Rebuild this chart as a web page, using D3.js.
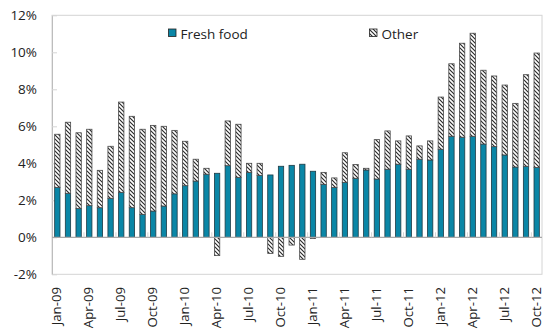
<!DOCTYPE html>
<html>
<head>
<meta charset="utf-8">
<script src="https://cdn.jsdelivr.net/npm/d3@7"></script>
<style>
  body { margin: 0; background: #fff; }
  text { font-family: "Open Sans", "Noto Sans", sans-serif; fill: #222; }
</style>
</head>
<body>
<svg id="chart" width="544" height="330"></svg>
<script>
// Monthly contributions (percentage points), Jan-09 .. Oct-12
const months = [
  "Jan-09","Feb-09","Mar-09","Apr-09","May-09","Jun-09","Jul-09","Aug-09","Sep-09","Oct-09","Nov-09","Dec-09",
  "Jan-10","Feb-10","Mar-10","Apr-10","May-10","Jun-10","Jul-10","Aug-10","Sep-10","Oct-10","Nov-10","Dec-10",
  "Jan-11","Feb-11","Mar-11","Apr-11","May-11","Jun-11","Jul-11","Aug-11","Sep-11","Oct-11","Nov-11","Dec-11",
  "Jan-12","Feb-12","Mar-12","Apr-12","May-12","Jun-12","Jul-12","Aug-12","Sep-12","Oct-12"
];
const freshFood = [
  2.70, 2.38, 1.55, 1.71, 1.60, 2.11, 2.43, 1.60, 1.24, 1.42, 1.69, 2.35,
  2.79, 3.04, 3.41, 3.46, 3.87, 3.24, 3.51, 3.35, 3.37, 3.84, 3.89, 3.95,
  3.57, 2.86, 2.70, 2.97, 3.19, 3.64, 3.15, 3.68, 3.95, 3.68, 4.22, 4.18,
  4.76, 5.46, 5.41, 5.46, 5.04, 4.90, 4.45, 3.80, 3.84, 3.78
];
const other = [
  2.87, 3.84, 4.10, 4.13, 2.02, 2.81, 4.88, 4.94, 4.60, 4.63, 4.31, 3.43,
  2.40, 1.18, 0.32, -0.99, 2.42, 2.87, 0.49, 0.65, -0.87, -1.03, -0.42, -1.19,
  -0.07, 0.65, 0.51, 1.60, 0.74, 0.09, 2.13, 2.07, 1.26, 1.80, 0.72, 1.03,
  2.82, 3.92, 5.08, 5.57, 3.99, 3.82, 3.78, 3.44, 4.95, 6.18
];
const seriesNames = ["Fresh food", "Other"];
const yTicks = [-2, 0, 2, 4, 6, 8, 10, 12];
const xTickLabels = months.filter((m, i) => i % 3 === 0);

const svg = d3.select("#chart");
const plotLeft = 52, plotRight = 542, plotTop = 15.3, plotBottom = 274.3;

const x = d3.scaleBand().domain(months).range([plotLeft, plotRight]).paddingInner(0.5).paddingOuter(0.25);
const y = d3.scaleLinear().domain([-2, 12]).range([plotBottom, plotTop]);

// diagonal hatch for the "Other" series
const defs = svg.append("defs");
defs.append("pattern")
  .attr("id", "hatch").attr("patternUnits", "userSpaceOnUse")
  .attr("width", 4).attr("height", 4)
  .call(p => {
    p.append("rect").attr("width", 4).attr("height", 4).attr("fill", "#fff");
    p.append("path").attr("d", "M-1,-1 L5,5 M-1,3 L1,5 M3,-1 L5,1")
      .attr("stroke", "#2a2a2a").attr("stroke-width", 1.15);
  });

// plot frame
svg.append("rect")
  .attr("x", plotLeft).attr("y", plotTop).attr("width", plotRight - plotLeft).attr("height", plotBottom - plotTop)
  .attr("fill", "none").attr("stroke", "#d4d4d4").attr("stroke-width", 1);

// y axis with short inward ticks
const yAxis = svg.append("g").attr("transform", `translate(${plotLeft},0)`)
  .call(d3.axisLeft(y).tickValues(yTicks).tickFormat(d => d + "%").tickSizeInner(-5).tickSizeOuter(0).tickPadding(15));
yAxis.select(".domain").attr("stroke", "#bdbdbd");
yAxis.selectAll(".tick line").attr("stroke", "#d4d4d4");
yAxis.selectAll(".tick text").attr("font-size", 13.5).attr("font-family", "'Open Sans', sans-serif").attr("fill", "#222");

// stacked data
const rows = months.map((m, i) => ({ month: m, "Fresh food": freshFood[i], "Other": other[i] }));
const stack = d3.stack().keys(seriesNames).offset(d3.stackOffsetDiverging);
const layers = stack(rows);
const fills = { "Fresh food": "#0a86a6", "Other": "url(#hatch)" };
const strokes = { "Fresh food": "#1e3a44", "Other": "#4a4a4a" };

svg.append("g").selectAll("g").data(layers).join("g")
  .attr("fill", d => fills[d.key]).attr("stroke", d => strokes[d.key]).attr("stroke-width", 0.8)
  .selectAll("rect").data(d => d).join("rect")
  .attr("x", d => x(d.data.month))
  .attr("width", x.bandwidth())
  .attr("y", d => y(Math.max(d[0], d[1])))
  .attr("height", d => Math.abs(y(d[0]) - y(d[1])));

// zero line with quarterly ticks
const y0 = y(0);
svg.append("line").attr("x1", plotLeft).attr("x2", plotRight).attr("y1", y0).attr("y2", y0)
  .attr("stroke", "#a8a8a8").attr("stroke-width", 1.2);
svg.append("g").selectAll("line").data(xTickLabels.slice(1)).join("line")
  .attr("x1", d => x(d) - x.step() * x.paddingInner() / 2)
  .attr("x2", d => x(d) - x.step() * x.paddingInner() / 2)
  .attr("y1", y0).attr("y2", y0 - 5)
  .attr("stroke", "#d4d4d4");

// rotated category labels below the plot
svg.append("g").selectAll("text").data(xTickLabels).join("text")
  .attr("transform", d => `translate(${x(d) + x.bandwidth() / 2},287) rotate(-90)`)
  .attr("text-anchor", "end").attr("dy", "0.3em")
  .attr("font-size", 13.2)
  .text(d => d);

// legend
const legend = svg.append("g");
const legendItems = [
  { key: "Fresh food", x: 168.5 },
  { key: "Other", x: 369.5 }
];
legendItems.forEach(it => {
  legend.append("rect").attr("x", it.x).attr("y", 29).attr("width", 7.5).attr("height", 7.5)
    .attr("fill", fills[it.key]).attr("stroke", "#222").attr("stroke-width", 0.8);
  legend.append("text").attr("x", it.x + 12).attr("y", 38.5).attr("font-size", 13.5).text(it.key);
});
</script>
</body>
</html>
